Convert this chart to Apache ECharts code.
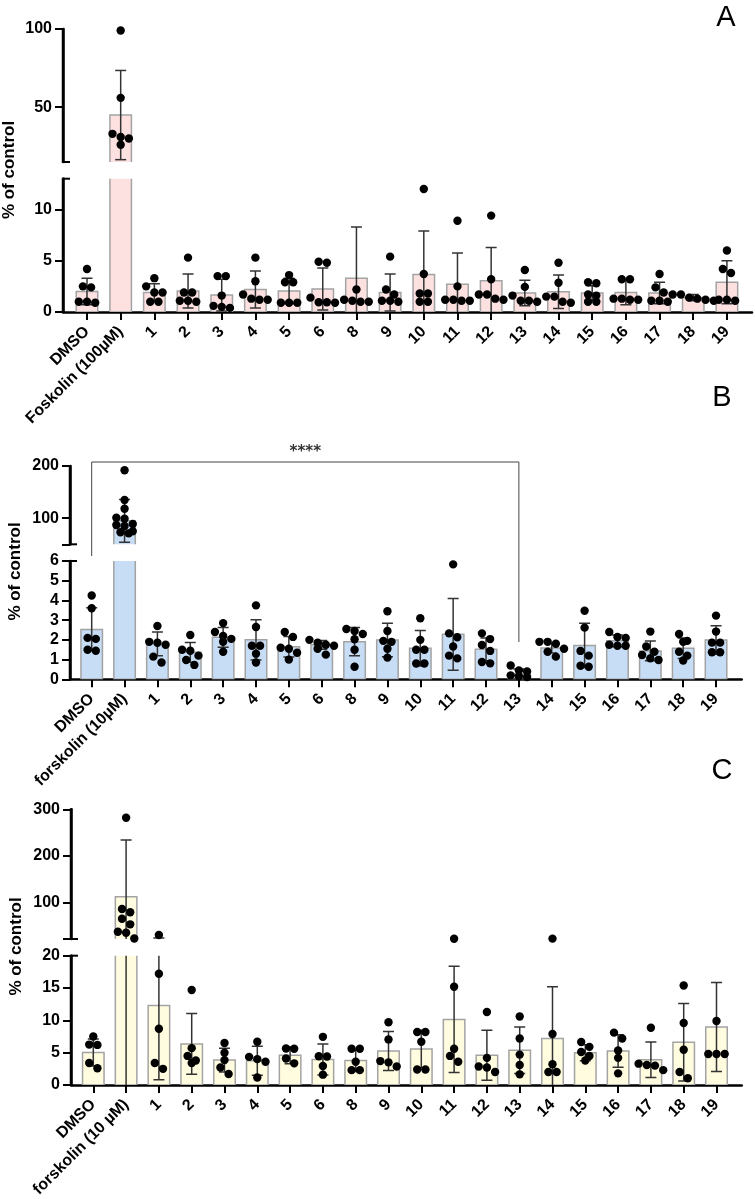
<!DOCTYPE html>
<html><head><meta charset="utf-8">
<script src="https://cdn.jsdelivr.net/npm/echarts@6/dist/echarts.min.js"></script>
<style>html,body{margin:0;padding:0;background:#fff}#c{width:755px;height:1199px}</style>
</head><body><div id="c"></div>
<script>
// ---------- categories ----------
const compounds = ['1','2','3','4','5','6','8','9','10','11','12','13','14','15','16','17','18','19'];
const categoriesA = ['DMSO','Foskolin (100µM)'].concat(compounds);
const categoriesB = ['DMSO','forskolin (10µM)'].concat(compounds);
const categoriesC = ['DMSO','forskolin (10 µM)'].concat(compounds);

// ---------- panel A ----------
const meanA = [2.0, 45, 1.9, 2.05, 1.65, 2.2, 2.05, 2.25, 3.3, 1.9, 3.65, 2.7, 3.05, 1.85, 1.97, 1.85, 1.9, 1.85, 1.4, 2.9];
const sdA   = [1.3, 28.5, 0.85, 1.65, 1.55, 1.8, 1.25, 2.05, 5.0, 1.8, 4.25, 3.05, 3.25, 1.25, 1.63, 0.7, 1.2, 1.05, 0.3, 2.1];
const dotsA = [
  [4.2, 2.5, 2.4, 1.0, 1.0, 0.9],
  [99, 56, 33, 31, 30, 26],
  [3.3, 2.5, 1.9, 1.9, 1.0, 1.0],
  [5.3, 1.9, 1.9, 1.1, 1.1, 1.0],
  [3.5, 3.5, 1.6, 0.6, 0.5, 0.4],
  [5.3, 3.0, 1.7, 1.3, 1.2, 1.2],
  [3.6, 2.9, 2.9, 0.9, 0.9, 0.9],
  [4.9, 4.8, 1.4, 0.95, 0.95, 0.9],
  [13.4, 2.2, 1.2, 1.1, 1.0, 1.0],
  [5.4, 2.2, 1.7, 1.1, 1.1, 1.0],
  [12.0, 3.7, 1.8, 1.8, 1.0, 1.0],
  [8.9, 2.5, 1.2, 1.2, 1.1, 1.1],
  [9.4, 3.2, 1.7, 1.7, 1.3, 1.2],
  [4.1, 2.45, 1.6, 1.1, 1.1, 1.0],
  [4.8, 2.85, 1.5, 1.5, 1.0, 0.9],
  [2.9, 2.8, 1.7, 1.6, 1.0, 1.0],
  [3.2, 3.2, 1.3, 1.3, 1.2, 1.2],
  [3.7, 2.4, 1.9, 1.1, 1.1, 1.0],
  [1.7, 1.7, 1.4, 1.3, 1.2, 1.1],
  [6.0, 4.2, 3.8, 1.2, 1.2, 1.1]
];
const yTicksAUpper = [50, 100];
const yLabelsAUpper = [50, 100];
const yTicksALower = [0, 5, 10];
const yLabelsALower = [0, 5, 10];

// ---------- panel B ----------
const meanB = [2.53, 95, 1.8, 1.37, 2.13, 2.0, 1.65, 1.75, 1.91, 1.99, 1.57, 2.28, 1.52, 0.27, 1.59, 1.72, 1.95, 1.44, 1.57, 1.99];
const sdB   = [1.1, 41, 0.6, 0.5, 0.5, 1.02, 0.52, 0.22, 0.72, 0.85, 0.9, 1.82, 0.58, 0.25, 0.25, 1.12, 0.3, 0.5, 0.52, 0.72];
const dotsB = [
  [4.25, 3.6, 2.1, 2.05, 1.5, 1.45],
  [192, 135, 118, 101, 99, 89, 87, 85, 75, 73, 71],
  [2.7, 1.9, 1.85, 1.75, 1.15, 0.85],
  [2.25, 1.5, 1.45, 1.2, 0.98, 0.73],
  [2.85, 2.4, 2.2, 2.05, 1.9, 1.4],
  [3.75, 2.65, 1.7, 1.7, 1.3, 0.85],
  [2.4, 2.15, 1.6, 1.55, 1.35, 1.0],
  [2.0, 1.85, 1.75, 1.7, 1.55, 1.25],
  [2.55, 2.45, 2.3, 2.03, 1.5, 0.64],
  [3.45, 2.45, 1.95, 1.9, 1.55, 1.1],
  [3.1, 2.0, 1.5, 1.5, 0.8, 0.8],
  [5.83, 2.33, 2.13, 1.66, 1.2, 1.06],
  [2.33, 2.04, 1.74, 1.44, 0.88, 0.81],
  [0.7, 0.45, 0.4, 0.2, 0.15, 0.12],
  [1.9, 1.9, 1.8, 1.55, 1.4, 1.15],
  [3.48, 2.62, 1.44, 1.2, 0.69, 0.64],
  [2.4, 2.15, 2.1, 1.75, 1.7, 1.7],
  [2.42, 1.66, 1.4, 1.23, 1.06, 0.98],
  [2.3, 1.95, 1.9, 1.4, 1.2, 0.95],
  [3.23, 2.42, 1.86, 1.86, 1.37, 1.37]
];
const yTicksBUpper = [50, 100, 200];
const yLabelsBUpper = [100, 200];
const yTicksBLower = [0, 1, 2, 3, 4, 5, 6];
const yLabelsBLower = [0, 1, 2, 3, 4, 5, 6];

// ---------- panel C ----------
const meanC = [5.03, 112, 12.3, 6.36, 3.85, 3.74, 4.6, 3.95, 3.8, 5.26, 5.57, 10.15, 4.6, 5.36, 7.2, 5.0, 5.26, 3.92, 6.6, 8.97];
const sdC   = [2.1, 122, 11.5, 4.7, 1.85, 2.25, 1.3, 2.4, 1.7, 3.0, 2.9, 8.2, 3.85, 3.6, 8.0, 1.24, 2.5, 2.75, 6.0, 6.9];
const dotsC = [
  [7.5, 6.25, 6.2, 3.4, 2.6],
  [282, 86, 79, 65, 53, 37, 35, 22.5],
  [30, 17.2, 8.7, 3.4, 2.5],
  [14.7, 5.7, 4.5, 3.8, 3.4],
  [6.5, 5.0, 3.85, 2.7, 1.7],
  [6.7, 4.35, 4.0, 3.6, 1.15],
  [5.65, 5.6, 4.1, 3.35],
  [7.45, 4.45, 4.4, 2.95, 1.6],
  [5.6, 5.6, 3.6, 2.3, 2.3],
  [9.7, 7.05, 3.7, 3.5, 2.85],
  [8.2, 8.2, 6.7, 2.4, 2.4],
  [22, 15.2, 5.6, 4.5, 3.6],
  [11.3, 4.2, 2.85, 2.7, 2.0],
  [10.6, 7.2, 4.7, 3.1, 1.65],
  [22.3, 7.9, 3.2, 2.0, 2.0],
  [6.65, 5.9, 5.1, 4.5, 3.8],
  [8.1, 7.2, 5.35, 4.2, 1.8],
  [8.85, 3.3, 3.1, 3.0, 2.3],
  [15.4, 9.6, 5.45, 2.0, 1.05],
  [20.5, 9.9, 4.8, 4.8, 4.8]
];
const yTicksCUpper = [21.5, 100, 200, 300];
const yLabelsCUpper = [100, 200, 300];
const yTicksCLower = [0, 5, 10, 15, 20];
const yLabelsCLower = [0, 5, 10, 15, 20];

// ---------- layout / style ----------
const FONT = '"Liberation Sans", Arial, sans-serif';
const BAR_W = 21.5, DOT_R = 4.2, DOT_GAP = 8.2, CAP = 5.5;
const panels = [
  {cats: categoriesA, mean: meanA, sd: sdA, dots: dotsA, fill: '#fde1e1',
   axisX: 63, endX: 752, firstX: 87, stepX: 33.68,
   segs: [{top: 29, bottom: 162, min: 15, max: 100, ticks: yTicksAUpper, labels: yLabelsAUpper},
          {top: 178.7, bottom: 312, min: 0, max: 13, ticks: yTicksALower, labels: yLabelsALower}],
   letter: ['A', 726, 18], title: [9, 170]},
  {cats: categoriesB, mean: meanB, sd: sdB, dots: dotsB, fill: '#c6ddf5',
   axisX: 70, endX: 741.7, firstX: 91.7, stepX: 32.86,
   segs: [{top: 466, bottom: 544.3, min: 50, max: 200, ticks: yTicksBUpper, labels: yLabelsBUpper},
          {top: 561, bottom: 679.3, min: 0, max: 6, ticks: yTicksBLower, labels: yLabelsBLower}],
   letter: ['B', 722, 398], title: [15.5, 571.5]},
  {cats: categoriesC, mean: meanC, sd: sdC, dots: dotsC, fill: '#fffcdf',
   axisX: 71, endX: 741.7, firstX: 93.3, stepX: 32.8,
   segs: [{top: 809.3, bottom: 939, min: 21.5, max: 300, ticks: yTicksCUpper, labels: yLabelsCUpper},
          {top: 955.7, bottom: 1085, min: 0, max: 20, ticks: yTicksCLower, labels: yLabelsCLower}],
   letter: ['C', 722, 771], title: [16.5, 946.5]}
];

function swarm(ys) {
  const rows = [];
  ys.forEach(y => {
    const r = rows[rows.length - 1];
    if (r && Math.abs(y - r[0]) < DOT_GAP * 0.85) r.push(y); else rows.push([y]);
  });
  const out = [];
  rows.forEach(r => r.forEach((y, k) => out.push([(k - (r.length - 1) / 2) * DOT_GAP, y])));
  return out;
}

const lab = {color: '#000', fontFamily: FONT, fontWeight: 'bold', fontSize: 16};
const option = {animation: false, backgroundColor: '#fff', grid: [], xAxis: [], yAxis: [], series: []};
const segGrids = [];

panels.forEach(p => {
  const xmin = (p.axisX - p.firstX) / p.stepX, xmax = (p.endX - p.firstX) / p.stepX;
  const idx = p.cats.map((c, i) => i);
  p.segs.forEach((s, si) => {
    const g = option.grid.length;
    const isBottom = si === p.segs.length - 1;
    segGrids.push({g, s, si, xmin});
    option.grid.push({left: p.axisX, top: s.top, width: p.endX - p.axisX, height: s.bottom - s.top,
      containLabel: false, outerBoundsMode: 'none', show: false});
    option.xAxis.push({type: 'value', gridIndex: g, position: 'bottom', min: xmin, max: xmax, show: isBottom,
      axisLine: {show: true, onZero: false, lineStyle: {color: '#000', width: 2.5}},
      axisTick: {show: true, customValues: idx, length: 8, lineStyle: {color: '#000', width: 2}},
      axisLabel: Object.assign({show: true, customValues: idx, formatter: v => p.cats[Math.round(v)],
        rotate: 45, margin: 17}, lab),
      splitLine: {show: false}});
    option.yAxis.push({type: 'value', gridIndex: g, position: 'left', min: s.min, max: s.max, show: true,
      axisLine: {show: true, onZero: false, lineStyle: {color: '#000', width: 2.5}},
      axisTick: {show: true, customValues: s.ticks, length: 8, lineStyle: {color: '#000', width: 2}},
      axisLabel: Object.assign({show: true, customValues: s.labels, margin: 11}, lab),
      splitLine: {show: false}});

    // bars
    option.series.push({type: 'custom', xAxisIndex: g, yAxisIndex: g, clip: true, silent: true, z: 1,
      data: p.mean.map((m, i) => [i, m]),
      renderItem: (params, api) => {
        const i = api.value(0), m = api.value(1);
        const b = api.coord([i, 0]), t = api.coord([i, m]);
        return {type: 'rect', shape: {x: b[0] - BAR_W / 2, y: t[1], width: BAR_W, height: b[1] - t[1]},
          style: {fill: p.fill, stroke: '#a3a3a3', lineWidth: 1.5}};
      }});
    // error bars (mean ± SD)
    option.series.push({type: 'custom', xAxisIndex: g, yAxisIndex: g, clip: true, silent: true, z: 2,
      data: p.mean.map((m, i) => [i, m, p.sd[i]]),
      renderItem: (params, api) => {
        const i = api.value(0), m = api.value(1), d = api.value(2);
        const hi = api.coord([i, m + d]), lo = api.coord([i, m - d]), c = hi[0];
        const st = {stroke: '#333', lineWidth: 1.5};
        return {type: 'group', children: [
          {type: 'line', shape: {x1: c, y1: hi[1], x2: c, y2: lo[1]}, style: st},
          {type: 'line', shape: {x1: c - CAP, y1: hi[1], x2: c + CAP, y2: hi[1]}, style: st},
          {type: 'line', shape: {x1: c - CAP, y1: lo[1], x2: c + CAP, y2: lo[1]}, style: st}]};
      }});
    // individual points
    option.series.push({type: 'custom', xAxisIndex: g, yAxisIndex: g, clip: false, silent: true, z: 3,
      data: idx.map(i => [i, s.min]),
      renderItem: (params, api) => {
        const i = api.value(0);
        const vals = p.dots[i].filter(v => v >= s.min && v <= s.max).sort((a, b) => b - a);
        const cx = api.coord([i, s.min])[0];
        const pts = swarm(vals.map(v => api.coord([i, v])[1]));
        return {type: 'group', children: pts.map(q => ({type: 'circle',
          shape: {cx: cx + q[0], cy: q[1], r: DOT_R}, style: {fill: '#000'}}))};
      }});
  });
});

const chart = echarts.init(document.getElementById('c'), null, {renderer: 'canvas'});
chart.setOption(option);

// annotations
const graphics = [];
panels.forEach(p => {
  graphics.push({type: 'text', x: p.letter[1], y: p.letter[2],
    style: {text: p.letter[0], font: '29px "Liberation Sans", Arial, sans-serif', fill: '#000',
      textAlign: 'center', textVerticalAlign: 'middle'}});
  graphics.push({type: 'text', x: p.title[0], y: p.title[1], rotation: Math.PI / 2,
    style: {text: '% of control', font: 'bold 17px "Liberation Sans", Arial, sans-serif', fill: '#000',
      textAlign: 'center', textVerticalAlign: 'middle'}});
});
// axis line + break marks on each segment of the broken y axis
segGrids.forEach(({g, s, si, xmin}) => {
  const top = chart.convertToPixel({gridIndex: g}, [xmin, s.max]);
  const bot = chart.convertToPixel({gridIndex: g}, [xmin, s.min]);
  const yb = si === 0 ? bot[1] : top[1];
  graphics.push({type: 'line', shape: {x1: top[0], y1: top[1] - 1, x2: bot[0], y2: bot[1] + 1},
    style: {stroke: '#000', lineWidth: 2.5}, z: 50});
  graphics.push({type: 'line', shape: {x1: bot[0], y1: yb, x2: bot[0] + 7, y2: yb},
    style: {stroke: '#000', lineWidth: 2}, z: 50});
});
const gB = segGrids[3].g;
const bx0 = chart.convertToPixel({gridIndex: gB}, [0, 0])[0];
const bx1 = chart.convertToPixel({gridIndex: gB}, [13, 0])[0];
graphics.push({type: 'polyline', shape: {points: [[bx0, 556], [bx0, 462], [bx1, 462], [bx1, 642]]},
  style: {stroke: '#444', lineWidth: 1, fill: null}});
graphics.push({type: 'text', x: (bx0 + bx1) / 2, y: 452,
  style: {text: '****', font: 'bold 15px "DejaVu Sans", sans-serif', fill: '#333',
    textAlign: 'center', textVerticalAlign: 'middle'}});
chart.setOption({graphic: graphics});
</script></body></html>
